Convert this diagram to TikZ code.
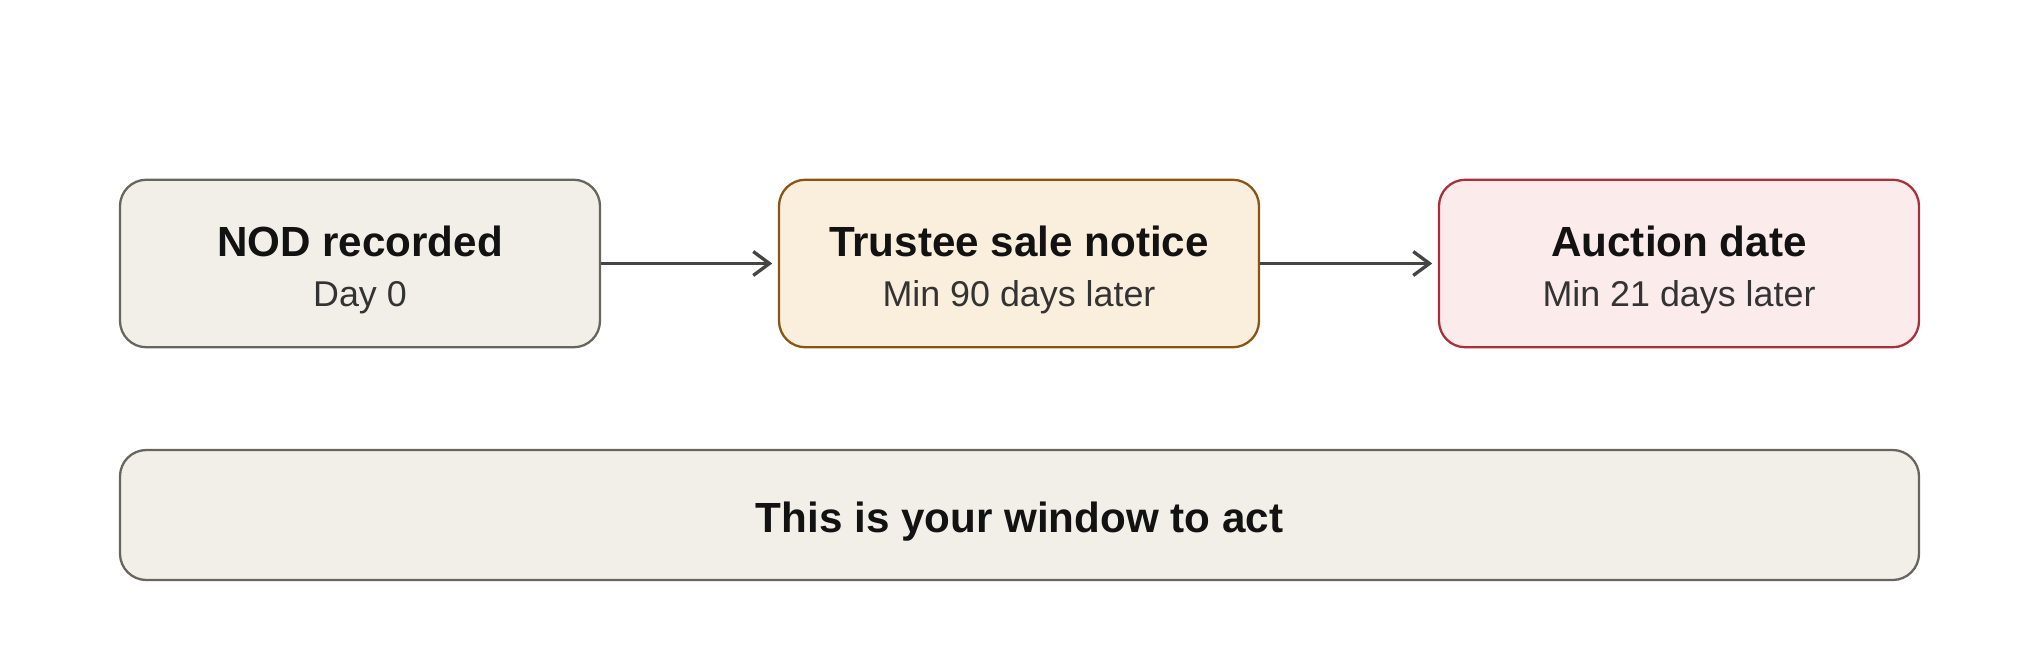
\documentclass[tikz,border=0pt]{standalone}
\usepackage{fontspec}
\setmainfont{Liberation Sans}
\usetikzlibrary{arrows.meta}
\definecolor{grayfill}{HTML}{F2EFE8}
\definecolor{grayline}{HTML}{66665F}
\definecolor{tanfill}{HTML}{FAEEDC}
\definecolor{tanline}{HTML}{8A5512}
\definecolor{redfill}{HTML}{FCEBEB}
\definecolor{redline}{HTML}{A8303A}
\definecolor{arrowline}{HTML}{454543}
\definecolor{subtext}{HTML}{333333}
% extra room on top pushes the text a little down in its box
\newcommand{\lowered}[2]{\raisebox{0pt}[\dimexpr\height+#1\relax][\depth]{#2}}
\newcommand{\boxtext}[2]{\lowered{4.4pt}{\begin{tabular}{@{}c@{}}#1\\
  {\fontsize{10.2}{14.2}\selectfont\mdseries\color{subtext}#2}\end{tabular}}}

\begin{document}
\begin{tikzpicture}[
  box/.style={draw, line width=0.65pt, rounded corners=7.5pt, align=center,
    minimum width=4.8cm, minimum height=1.675cm, inner sep=0pt,
    font=\fontsize{12}{14.2}\selectfont\bfseries, text=black!93},
  flow/.style={draw=arrowline, line width=0.95pt, shorten >=1.6pt,
    -{Straight Barb[length=4.6pt,width=6.8pt,line width=0.95pt]}}
]
\useasboundingbox (0,0) rectangle (20.4,6.6);

\node[box, fill=grayfill, draw=grayline] (nod) at (3.6,3.965)
  {\boxtext{NOD recorded}{Day 0}};
\node[box, fill=tanfill, draw=tanline] (notice) at (10.19,3.965)
  {\boxtext{Trustee sale notice}{Min 90 days later}};
\node[box, fill=redfill, draw=redline] (auction) at (16.79,3.965)
  {\boxtext{Auction date}{Min 21 days later}};

\draw[flow] (nod) -- (notice);
\draw[flow] (notice) -- (auction);

\node[box, fill=grayfill, draw=grayline, minimum width=17.99cm,
  minimum height=1.3cm] (window) at (10.195,1.45)
  {\lowered{3.7pt}{This is your window to act}};

\end{tikzpicture}
\end{document}
